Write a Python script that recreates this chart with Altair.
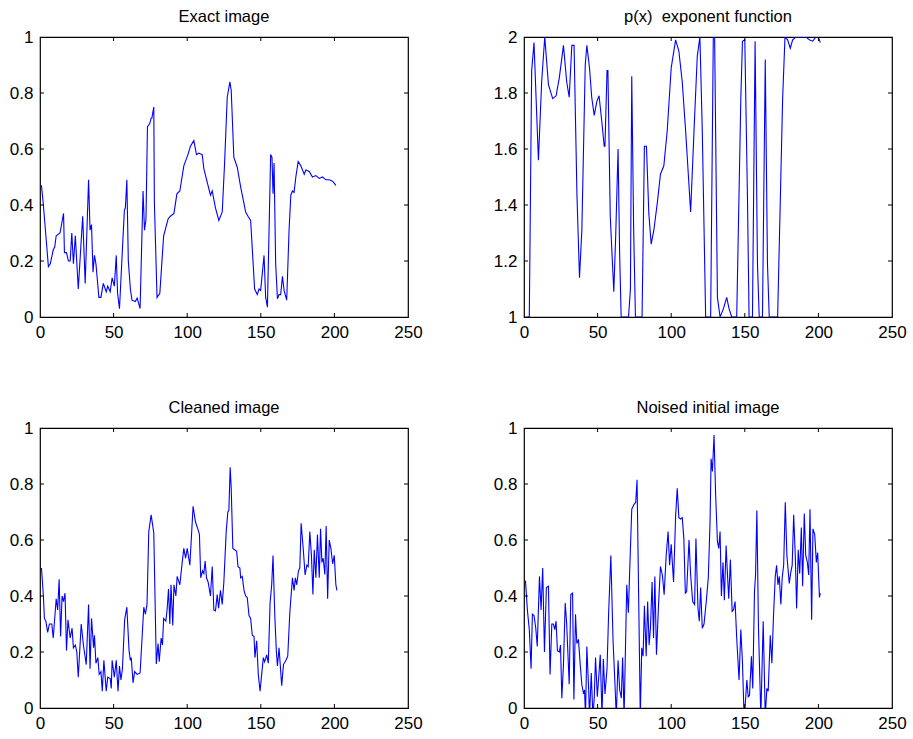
import altair as alt
import pandas as pd

# ---------------- data ----------------
X_TICKS = [0, 50, 100, 150, 200, 250]
Y_TICKS_UNIT = [0, 0.2, 0.4, 0.6, 0.8, 1]
Y_TICKS_P = [1, 1.2, 1.4, 1.6, 1.8, 2]

TITLES = ["Exact image", "p(x) \u00a0exponent function", "Cleaned image", "Noised initial image"]

exact_x = [1, 2.3, 5.7, 7, 9, 10, 11, 13.6, 16, 16.6,
           18, 19.3, 20.5, 21.6, 22.7, 24, 26, 29, 30.7, 33,
           34, 35, 36, 37, 38, 40, 41.4, 43, 45, 46,
           47.7, 49, 50.5, 51.8, 52.7, 54, 57.3, 58, 59, 60,
           61.4, 62.5, 64.8, 66, 68, 70, 71, 72, 73, 74.5,
           75.5, 76, 77.3, 77.7, 79.5, 81.4, 84, 87, 88.6, 91,
           93, 95, 97.7, 100.5, 102.2, 104.5, 106.3, 107.9, 110.2, 111.3,
           115.8, 117, 119.2, 121.5, 123.8, 125.4, 127.2, 129, 129.9, 131.7,
           134, 136.3, 138.6, 139.7, 141.3, 143.1, 145.8, 147.6, 148.8, 149.9,
           152.2, 153.3, 154.5, 156.7, 157.6, 158.3, 159, 160.1, 161.3, 162.4,
           163.5, 164.7, 165.8, 167.6, 169.2, 170.4, 171.5, 172.6, 173.8, 175.4,
           177.2, 179.5, 180.6, 182.9, 185.1, 187.4, 189.7, 191.9, 194.2, 196.5,
           198.8, 201]
exact_y = [0.47, 0.40, 0.18, 0.19, 0.24, 0.25, 0.29, 0.30, 0.37, 0.23,
           0.23, 0.20, 0.20, 0.30, 0.19, 0.29, 0.10, 0.36, 0.12, 0.49,
           0.31, 0.33, 0.16, 0.22, 0.19, 0.07, 0.07, 0.12, 0.09, 0.11,
           0.09, 0.14, 0.11, 0.22, 0.085, 0.03, 0.38, 0.39, 0.49, 0.20,
           0.10, 0.06, 0.055, 0.068, 0.03, 0.45, 0.31, 0.35, 0.68, 0.69,
           0.71, 0.71, 0.75, 0.41, 0.07, 0.085, 0.29, 0.35, 0.36, 0.37,
           0.44, 0.45, 0.54, 0.58, 0.61, 0.63, 0.58, 0.585, 0.58, 0.53,
           0.435, 0.45, 0.39, 0.345, 0.375, 0.55, 0.785, 0.84, 0.81, 0.57,
           0.535, 0.465, 0.405, 0.375, 0.36, 0.345, 0.10, 0.08, 0.10, 0.095,
           0.22, 0.07, 0.035, 0.58, 0.57, 0.44, 0.55, 0.19, 0.065, 0.08,
           0.08, 0.145, 0.095, 0.06, 0.31, 0.435, 0.45, 0.445, 0.50, 0.555,
           0.54, 0.51, 0.525, 0.52, 0.50, 0.505, 0.495, 0.50, 0.49, 0.49,
           0.485, 0.47]

p_x = [1, 3.6, 5.2, 6.8, 9.8, 12, 14.1, 16.6, 19.5, 21.8,
       24, 26.8, 29, 30.7, 32.5, 34, 36, 37.7, 39.3, 41.6,
       42.7, 44.5, 46, 47.7, 49.5, 51, 53, 54.5, 55, 56.4,
       57, 58.6, 61, 62.3, 63.9, 65, 66, 71, 72.3, 73.2,
       74.5, 75.7, 80.2, 81.8, 83.2, 84.8, 86.4, 88.2, 90.5, 92.7,
       95, 97.3, 100, 103, 105.2, 107.5, 109.8, 113.2, 115.5, 117.7,
       119.5, 121.1, 123.4, 126.8, 128.6, 129.5, 131.4, 133.2, 135.5, 137.7,
       139.3, 141.1, 144.5, 147.3, 148.4, 150, 151.8, 152.9, 155.2, 157,
       158.6, 159.8, 162, 163.9, 165.4, 166.6, 172.3, 175.7, 177.3, 179.1,
       180.9, 182.5, 184.8, 188.2, 191.6, 193.8, 196.1, 198.4, 200, 201.3]
p_y = [1.0, 1.0, 1.88, 1.98, 1.56, 1.84, 2.0, 1.83, 1.78, 1.79,
       1.855, 1.97, 1.84, 1.785, 1.97, 1.97, 1.43, 1.14, 1.31, 1.90,
       1.97, 1.89, 1.785, 1.72, 1.77, 1.79, 1.69, 1.61, 1.61, 1.88,
       1.88, 1.36, 1.09, 1.29, 1.60, 1.22, 1.0, 1.0, 1.1, 1.86,
       1.31, 1.0, 1.0, 1.61, 1.61, 1.37, 1.26, 1.31, 1.405, 1.51,
       1.54, 1.665, 1.89, 1.99, 1.95, 1.84, 1.665, 1.375, 1.665, 1.93,
       2.0, 1.67, 1.0, 1.0, 2.0, 2.0, 1.07, 1.0, 1.03, 1.07,
       1.03, 1.0, 1.0, 1.78, 1.985, 1.99, 1.43, 1.0, 1.0, 1.985,
       1.19, 1.0, 1.0, 1.92, 1.19, 1.0, 1.0, 1.78, 2.0, 1.99,
       1.96, 1.99, 2.0, 2.0, 2.0, 1.99, 1.985, 2.0, 2.0, 1.98]

clean_x = [1, 2.3, 3, 4, 5.2, 6.4, 8, 9, 11, 12,
           13, 14, 15, 16, 17, 18, 19, 20.5, 21.8, 22.7,
           24, 25, 26, 28, 29.5, 31.4, 33, 34, 35, 36.4,
           37, 38, 39.3, 40.2, 41.4, 42.3, 43.4, 45, 46, 47.7,
           48.4, 49, 50.5, 51.8, 53, 54, 55, 56, 57.5, 59,
           60.5, 61.4, 62, 63.2, 64.3, 66, 68, 70.5, 71.6, 72.7,
           73.9, 75.5, 77.3, 79, 80.2, 81, 82.3, 83.2, 84, 85.5,
           86.4, 87.3, 88.2, 89, 90.2, 91, 92.3, 93.2, 95, 96.6,
           97.7, 98.9, 100, 101.8, 104, 105.6, 107.2, 108.3, 109.2, 110.4,
           111.3, 112.2, 113.1, 114.2, 115.8, 117, 118.1, 119.2, 120.4, 121.3,
           122.6, 123.8, 124.9, 126.5, 127.6, 128.3, 129.2, 129.9, 131, 132.2,
           133.6, 134.5, 135.8, 136.3, 137.4, 138.6, 139.7, 140.8, 142, 143.1,
           144.2, 145.4, 146, 147.2, 148.3, 149.5, 150.6, 151.7, 152.6, 154,
           155.1, 156.3, 157.4, 158.3, 159.5, 160.6, 161.3, 162.4, 164.2, 165.4,
           167, 168.3, 169.7, 171.5, 172.6, 173.5, 174.4, 175.6, 176.5, 177.4,
           178.8, 180.1, 181.3, 182.2, 183.3, 184.4, 185.4, 186.3, 187.4, 188.5,
           189.7, 190.6, 191.5, 192.4, 193.5, 194.4, 195.4, 196.5, 197.6, 198.8,
           199.9, 201, 201.7]
clean_y = [0.50, 0.40, 0.32, 0.31, 0.27, 0.30, 0.30, 0.25, 0.39, 0.35,
           0.46, 0.255, 0.40, 0.38, 0.41, 0.205, 0.315, 0.25, 0.285, 0.215,
           0.225, 0.20, 0.11, 0.30, 0.225, 0.155, 0.37, 0.14, 0.32, 0.215,
           0.26, 0.16, 0.18, 0.12, 0.13, 0.06, 0.17, 0.06, 0.11, 0.105,
           0.07, 0.17, 0.11, 0.17, 0.06, 0.15, 0.10, 0.14, 0.315, 0.36,
           0.205, 0.17, 0.18, 0.09, 0.13, 0.12, 0.125, 0.36, 0.335, 0.37,
           0.63, 0.69, 0.625, 0.157, 0.23, 0.165, 0.25, 0.225, 0.32, 0.31,
           0.355, 0.425, 0.30, 0.44, 0.295, 0.44, 0.40, 0.47, 0.44, 0.52,
           0.57, 0.535, 0.57, 0.51, 0.72, 0.665, 0.64, 0.62, 0.465, 0.49,
           0.48, 0.525, 0.465, 0.45, 0.40, 0.505, 0.35, 0.347, 0.405, 0.356,
           0.42, 0.37, 0.45, 0.63, 0.70, 0.705, 0.86, 0.785, 0.57, 0.565,
           0.56, 0.505, 0.50, 0.465, 0.47, 0.42, 0.40, 0.395, 0.33, 0.32,
           0.26, 0.255, 0.18, 0.24, 0.12, 0.06, 0.12, 0.18, 0.165, 0.19,
           0.16, 0.375, 0.44, 0.545, 0.33, 0.20, 0.15, 0.215, 0.08, 0.155,
           0.17, 0.185, 0.34, 0.465, 0.42, 0.465, 0.44, 0.49, 0.50, 0.66,
           0.57, 0.475, 0.51, 0.505, 0.63, 0.545, 0.405, 0.565, 0.465, 0.62,
           0.465, 0.64, 0.52, 0.535, 0.477, 0.65, 0.39, 0.60, 0.57, 0.515,
           0.545, 0.44, 0.42]

noise_x = [1, 2.3, 3.6, 4.8, 5.7, 6.8, 8, 9, 10.5, 11.6,
           12.7, 13.9, 15.2, 16.6, 17.7, 18.9, 20, 20.9, 21.8, 22.7,
           24, 24.8, 25.7, 26.8, 28, 29, 30.7, 31.8, 33, 33.9,
           35, 35.9, 37, 38.2, 39.3, 40.5, 41.1, 41.8, 42.7, 43.9,
           44.5, 45.7, 46.8, 47.7, 48.6, 49.8, 50.9, 51.8, 53, 53.9,
           55, 56.4, 57.5, 59, 60.5, 61.6, 62.7, 63.9, 65, 66.1,
           67, 68, 69.8, 70.9, 71.8, 73.2, 74.5, 75.9, 76.8, 78,
           79, 80, 80.9, 81.8, 83, 84, 85, 85.9, 87, 88,
           88.9, 90, 91.4, 92.7, 94, 95.2, 96.6, 97.9, 98.9, 100,
           101.6, 103, 104.1, 105.2, 106.4, 107.5, 108.6, 109.6, 110.5, 112.1,
           113.2, 114.6, 115.9, 116.8, 118.2, 119.1, 120, 121.1, 122.3, 123.9,
           125.2, 126.4, 127.1, 128, 129.1, 130.2, 131.4, 132.3, 133.2, 134.1,
           135.2, 136.1, 137.3, 138.2, 139.1, 140.2, 141.4, 142.3, 143.4, 144.5,
           146.1, 147.3, 148.4, 149.5, 150.2, 151.4, 152.3, 153.2, 154.5, 155.4,
           156.6, 157.3, 158.2, 159.3, 160.9, 162.5, 163.9, 165, 165.9, 167.3,
           168.4, 169.5, 170.7, 171.6, 172.5, 173.4, 174.5, 175.4, 176.4, 177.5,
           178.6, 180.2, 181.1, 182.2, 183.2, 184.3, 185.2, 186.3, 187.3, 188.4,
           189.3, 190.4, 191.4, 192.5, 193.4, 194.3, 195.4, 196.3, 197.5, 198.6,
           199.5, 200.7, 201.3]
noise_y = [0.455, 0.35, 0.28, 0.14, 0.335, 0.33, 0.285, 0.22, 0.47, 0.35,
           0.50, 0.20, 0.43, 0.435, 0.12, 0.30, 0.30, 0.28, 0.31, 0.205,
           0.20, 0.225, 0.035, 0.155, 0.375, 0.30, 0.085, 0.405, 0.41, 0.03,
           0.335, 0.23, 0.245, 0.155, 0.083, 0.05, 0.065, -0.03, 0.22, 0.07,
           -0.03, 0.125, -0.03, 0.035, 0.18, 0.04, 0.12, 0.19, -0.03, 0.175,
           0.05, 0.14, 0.34, 0.545, 0.24, 0.11, -0.03, 0.17, 0.065, 0.035,
           0.18, -0.03, 0.44, 0.34, 0.49, 0.71, 0.725, 0.735, 0.815, 0.355,
           -0.03, 0.215, 0.185, 0.365, 0.185, 0.38, 0.225, 0.285, 0.45, 0.25,
           0.47, 0.19, 0.37, 0.505, 0.475, 0.405, 0.545, 0.63, 0.51, 0.585,
           0.45, 0.685, 0.785, 0.68, 0.675, 0.68, 0.605, 0.41, 0.415, 0.60,
           0.475, 0.38, 0.37, 0.605, 0.355, 0.31, 0.43, 0.285, 0.30, 0.385,
           0.465, 0.665, 0.89, 0.845, 0.975, 0.76, 0.595, 0.57, 0.63, 0.40,
           0.52, 0.385, 0.58, 0.48, 0.39, 0.53, 0.345, 0.35, 0.38, 0.25,
           0.10, 0.28, 0.165, -0.03, 0.006, 0.10, 0.04, 0.045, 0.185, 0.07,
           0.42, 0.475, 0.705, 0.285, -0.03, 0.31, -0.03, 0.07, 0.06, 0.26,
           0.16, 0.33, 0.47, 0.51, 0.44, 0.47, 0.37, 0.465, 0.51, 0.735,
           0.545, 0.445, 0.48, 0.51, 0.69, 0.545, 0.355, 0.565, 0.48, 0.645,
           0.435, 0.695, 0.545, 0.52, 0.475, 0.71, 0.315, 0.64, 0.62, 0.52,
           0.555, 0.395, 0.41]

# ---------------- styling ----------------
W, H = 368, 280
FONT = "Liberation Sans"
TICK_LEN = 4
Y_EXTENT = 33


def panel(title, xs, ys, ydom, yticks):
    df = pd.DataFrame({"x": xs, "y": ys})
    xsc = alt.Scale(domain=[0, 250], nice=False, zero=False)
    ysc = alt.Scale(domain=ydom, nice=False, zero=False)
    ax_x = alt.Axis(values=X_TICKS, title=None, ticks=False, labelPadding=7,
                    domain=False, grid=False, labelFont=FONT, labelFontSize=17,
                    labelColor="black", labelFlush=False, labelOverlap=False)
    ax_y = alt.Axis(values=yticks, format="~g", title=None, ticks=False,
                    labelPadding=7, domain=False, grid=False, labelFont=FONT,
                    labelFontSize=17, labelColor="black", labelFlush=False,
                    labelOverlap=False, minExtent=Y_EXTENT, maxExtent=Y_EXTENT)
    line = alt.Chart(df).mark_line(color="#0000ff", strokeWidth=1.1, clip=True).encode(
        x=alt.X("x:Q", scale=xsc, axis=ax_x),
        y=alt.Y("y:Q", scale=ysc, axis=ax_y),
    )
    xt = pd.DataFrame({"x": X_TICKS[1:-1]})
    yt = pd.DataFrame({"y": yticks[1:-1]})
    bottom = alt.Chart(xt).mark_rule(color="black", strokeWidth=1).encode(
        x=alt.X("x:Q", scale=xsc, axis=ax_x), y=alt.value(H), y2=alt.value(H - TICK_LEN))
    top = alt.Chart(xt).mark_rule(color="black", strokeWidth=1).encode(
        x=alt.X("x:Q", scale=xsc, axis=ax_x), y=alt.value(0), y2=alt.value(TICK_LEN))
    left = alt.Chart(yt).mark_rule(color="black", strokeWidth=1).encode(
        y=alt.Y("y:Q", scale=ysc, axis=ax_y), x=alt.value(0), x2=alt.value(TICK_LEN))
    right = alt.Chart(yt).mark_rule(color="black", strokeWidth=1).encode(
        y=alt.Y("y:Q", scale=ysc, axis=ax_y), x=alt.value(W), x2=alt.value(W - TICK_LEN))
    return alt.layer(line, bottom, top, left, right).properties(
        width=W, height=H,
        title=alt.TitleParams(title, font=FONT, fontSize=16.5, fontWeight="normal",
                              color="black", offset=3),
    )


p1 = panel(TITLES[0], exact_x, exact_y, [0, 1], Y_TICKS_UNIT)
p2 = panel(TITLES[1], p_x, p_y, [1, 2], Y_TICKS_P)
p3 = panel(TITLES[2], clean_x, clean_y, [0, 1], Y_TICKS_UNIT)
p4 = panel(TITLES[3], noise_x, noise_y, [0, 1], Y_TICKS_UNIT)

row1 = alt.hconcat(p1, p2, spacing=67)
row2 = alt.hconcat(p3, p4, spacing=67)

chart = alt.vconcat(row1, row2, spacing=57).properties(
    padding={"left": 6, "top": 7, "right": 5, "bottom": 5},
    background="white",
).configure_view(stroke="black", strokeWidth=1.2)

chart.save("out.html", embed_options={"renderer": "svg", "actions": False})
